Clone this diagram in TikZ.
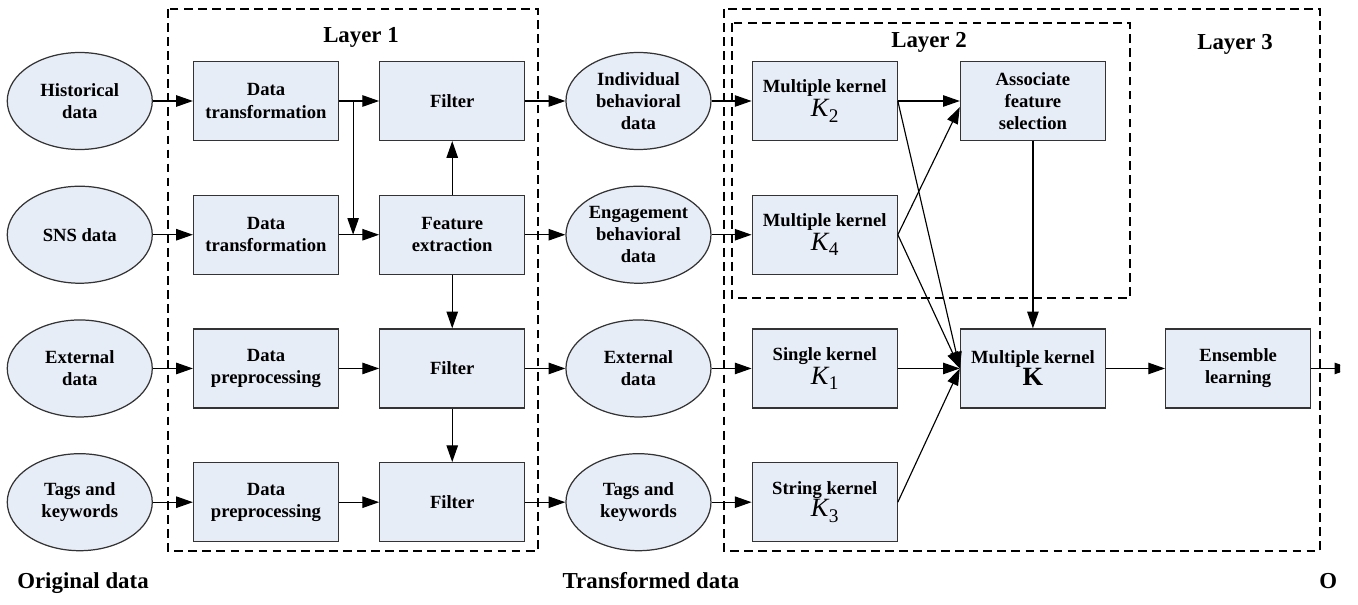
\documentclass[tikz,border=0pt]{standalone}
\usepackage{fontspec}
\setmainfont{Liberation Serif}
\usepackage{tikz}
\usetikzlibrary{arrows.meta, positioning, shapes.geometric, calc}
\definecolor{boxfill}{RGB}{231,237,247}
\newcommand{\kvar}[1]{{\normalfont\fontsize{15}{17}\selectfont\textit{K}\kern-0.5pt\raisebox{-0.45ex}{\fontsize{11}{11}\selectfont #1}}}

\begin{document}
\begin{tikzpicture}[
        proc/.style={rectangle, draw=black!80, fill=boxfill, line width=0.7pt, minimum width=2.9cm, minimum height=1.58cm, inner sep=1pt, align=center, font=\bfseries\fontsize{10.6}{12.6}\selectfont},
        src/.style={ellipse, draw=black!80, fill=boxfill, line width=0.7pt, minimum width=2.9cm, minimum height=1.94cm, inner sep=0pt, align=center, font=\bfseries\fontsize{10.6}{12.6}\selectfont},
        layer/.style={draw, line width=0.9pt, dash pattern=on 5pt off 3pt},
        title/.style={font=\bfseries\fontsize{13}{15}\selectfont},
        caption/.style={anchor=base, font=\bfseries\fontsize{13}{15}\selectfont},
        arrow/.style={-{Triangle[length=9.5pt,width=6.5pt]}, line width=0.65pt}
    ]
    \useasboundingbox (0,0) rectangle (27.16,-12.1);

    % Layer 1
    \node[proc] (dt1) at (5.32,-2.02) {Data\\transformation};
    \node[proc, below=1.07cm of dt1] (dt2) {Data\\transformation};
    \node[proc, below=1.07cm of dt2] (pp1) {Data\\preprocessing};
    \node[proc, below=1.07cm of pp1] (pp2) {Data\\preprocessing};
    \node[proc, right=0.8cm of dt1] (flt1) {Filter};
    \node[proc, right=0.8cm of dt2] (fext) {Feature\\extraction};
    \node[proc, right=0.8cm of pp1] (flt2) {Filter};
    \node[proc, right=0.8cm of pp2] (flt3) {Filter};

    % original data
    \node[src, left=0.8cm of dt1] (hist) {Historical\\data};
    \node[src, left=0.8cm of dt2] (sns) {SNS data};
    \node[src, left=0.8cm of pp1] (ext) {External\\data};
    \node[src, left=0.8cm of pp2] (tags) {Tags and\\keywords};

    % transformed data
    \node[src, right=0.8cm of flt1] (indiv) {Individual\\behavioral\\data};
    \node[src, right=0.8cm of fext] (engage) {Engagement\\behavioral\\data};
    \node[src, right=0.8cm of flt2] (extT) {External\\data};
    \node[src, right=0.8cm of flt3] (tagsT) {Tags and\\keywords};

    % Layer 2 / Layer 3
    \node[proc, right=0.8cm of indiv] (k2) {Multiple kernel\\[1pt]\kvar{2}};
    \node[proc, right=0.8cm of engage] (k4) {Multiple kernel\\[1pt]\kvar{4}};
    \node[proc, right=0.8cm of extT] (k1) {Single kernel\\[1pt]\kvar{1}};
    \node[proc, right=0.8cm of tagsT] (k3) {String kernel\\\kvar{3}};
    \node[proc, right=1.24cm of k2] (afs) {Associate\\feature\\selection};
    \node[proc, right=1.24cm of k1] (mk) {Multiple kernel\\{\fontsize{15}{17}\selectfont\textbf{K}}};
    \node[proc, right=1.18cm of mk] (ens) {Ensemble\\learning};

    % layers
    \draw[layer] (3.36,-0.18) rectangle (10.76,-11.02);
    \draw[layer] (14.48,-0.18) rectangle (26.4,-11.02);
    \draw[layer] (14.64,-0.46) rectangle (22.6,-5.96);
    \node[title] (lay1) at (7.22,-0.74) {Layer 1};
    \node[title] (lay2) at (18.58,-0.84) {Layer 2};
    \node[title] (lay3) at (24.7,-0.88) {Layer 3};

    % captions
    \node[caption] (orig) at (1.66,-11.76) {Original data};
    \node[caption] (trans) at (13.02,-11.76) {Transformed data};

    % connections
    \draw[arrow] (hist) -- (dt1);
    \draw[arrow] (sns) -- (dt2);
    \draw[arrow] (ext) -- (pp1);
    \draw[arrow] (tags) -- (pp2);
    \draw[arrow] (dt1) -- (flt1);
    \coordinate (br) at ($(dt1.east)!0.35!(flt1.west)$);
    \draw[arrow] (br) -- (br |- dt2.east);
    \draw[arrow] (dt2) -- (fext);
    \draw[arrow] (pp1) -- (flt2);
    \draw[arrow] (pp2) -- (flt3);
    \draw[arrow] (fext) -- (flt1);
    \draw[arrow] (fext) -- (flt2);
    \draw[arrow] (flt2) -- (flt3);
    \draw[arrow] (flt1) -- (indiv);
    \draw[arrow] (fext) -- (engage);
    \draw[arrow] (flt2) -- (extT);
    \draw[arrow] (flt3) -- (tagsT);
    \draw[arrow] (indiv) -- (k2);
    \draw[arrow] (engage) -- (k4);
    \draw[arrow] (extT) -- (k1);
    \draw[arrow] (tagsT) -- (k3);
    \draw[arrow] (k2) -- (afs);
    \draw[arrow] (k4.east) -- ([yshift=-0.12cm]afs.west);
    \draw[arrow] (k2.east) -- (mk.west);
    \draw[arrow] (k4.east) -- (mk.west);
    \draw[arrow] (k1) -- (mk);
    \draw[arrow] (k3.east) -- (mk.west);
    \draw[arrow] (afs) -- (mk);
    \draw[arrow] (mk) -- (ens);

    % output, cut at the edge
    \begin{scope}
        \clip (0,0) rectangle (26.8,-12.1);
        \coordinate (out) at ($(ens.east)+(0.8,0)$);
        \draw[arrow] (ens) -- (out);
    \end{scope}
    \begin{scope}
        \clip (0,0) rectangle (26.7,-12.1);
        \node[caption, anchor=base west, inner sep=0pt] (outp) at (26.38,-11.76) {Output data};
    \end{scope}

\end{tikzpicture}
\end{document}
